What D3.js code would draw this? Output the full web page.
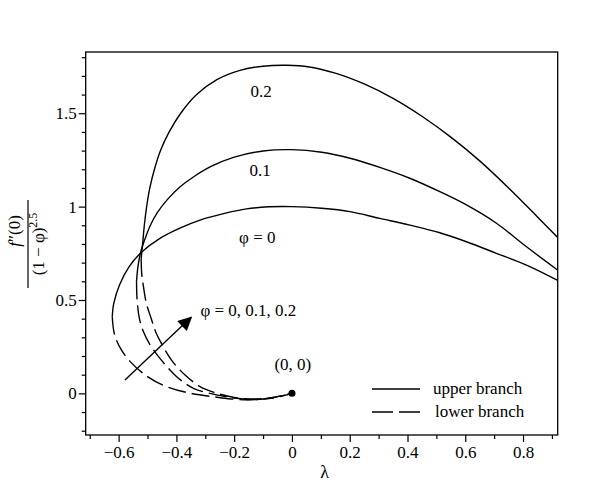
<!DOCTYPE html>
<html>
<head>
<meta charset="utf-8">
<script src="https://cdn.jsdelivr.net/npm/d3@7/dist/d3.min.js"></script>
<style>
  body { margin: 0; background: #fff; }
  svg text { font-family: "Liberation Serif", "DejaVu Serif", serif; fill: #000; }
  .axis path, .axis line { stroke: #000; stroke-width: 1.2; }
  .axis text { font-size: 17px; font-family: "Liberation Serif", serif; }
  .curve { fill: none; stroke: #000; stroke-width: 1.4; }
</style>
</head>
<body>
<svg id="chart" width="600" height="493"></svg>
<script>
// x: lambda, y: f''(0)/(1-phi)^2.5
var xMajor = [-0.6, -0.4, -0.2, 0, 0.2, 0.4, 0.6, 0.8];
var xMinor = [-0.7, -0.5, -0.3, -0.1, 0.1, 0.3, 0.5, 0.7, 0.9];
var yMajor = [0, 0.5, 1, 1.5];
var yMinor = [-0.2, -0.1, 0.1, 0.2, 0.3, 0.4, 0.6, 0.7, 0.8, 0.9, 1.1, 1.2, 1.3, 1.4, 1.6, 1.7, 1.8];

// upper branches (solid), from turning point to the right
var upper0 = [[-0.622, 0.41], [-0.617, 0.48], [-0.597, 0.58], [-0.563, 0.68], [-0.52, 0.757], [-0.457, 0.83],
  [-0.388, 0.885], [-0.318, 0.928], [-0.23, 0.965], [-0.157, 0.988], [-0.08, 0.999], [0.0, 1.0], [0.103, 0.991],
  [0.201, 0.973], [0.304, 0.937], [0.408, 0.901], [0.512, 0.86], [0.604, 0.812], [0.708, 0.75], [0.812, 0.687], [0.92, 0.605]];
var upper1 = [[-0.538, 0.6], [-0.533, 0.68], [-0.523, 0.76], [-0.508, 0.83], [-0.49, 0.9], [-0.465, 0.97],
  [-0.43, 1.04], [-0.388, 1.105], [-0.34, 1.16], [-0.28, 1.215], [-0.2, 1.265], [-0.1, 1.298], [0.0, 1.305],
  [0.103, 1.291], [0.201, 1.259], [0.304, 1.21], [0.408, 1.152], [0.512, 1.08], [0.604, 1.009],
  [0.708, 0.911], [0.812, 0.785], [0.92, 0.66]];
var upper2 = [[-0.522, 0.72], [-0.517, 0.8], [-0.511, 0.9], [-0.503, 1.0], [-0.492, 1.1], [-0.476, 1.2],
  [-0.455, 1.3], [-0.425, 1.4], [-0.385, 1.5], [-0.33, 1.6], [-0.26, 1.68], [-0.18, 1.73], [-0.1, 1.752],
  [-0.018, 1.757], [0.06, 1.748], [0.15, 1.715], [0.25, 1.657], [0.35, 1.58], [0.45, 1.484], [0.55, 1.372],
  [0.65, 1.245], [0.75, 1.1], [0.85, 0.945], [0.92, 0.835]];

// lower branches (dashed), from turning point to (0, 0)
var lower0 = [[-0.622, 0.41], [-0.615, 0.32], [-0.597, 0.25], [-0.56, 0.17], [-0.5, 0.09], [-0.44, 0.04],
  [-0.365, 0.005], [-0.273, -0.018], [-0.157, -0.035], [-0.065, -0.022], [0, 0]];
var lower1 = [[-0.538, 0.6], [-0.536, 0.5], [-0.528, 0.4], [-0.514, 0.33], [-0.491, 0.26], [-0.452, 0.178],
  [-0.399, 0.089], [-0.341, 0.027], [-0.284, 0.0], [-0.2, -0.025], [-0.145, -0.033], [-0.065, -0.025], [0, 0]];
var lower2 = [[-0.522, 0.72], [-0.52, 0.64], [-0.514, 0.571], [-0.504, 0.482], [-0.487, 0.4], [-0.472, 0.33],
  [-0.452, 0.268], [-0.417, 0.178], [-0.37, 0.098], [-0.318, 0.036], [-0.27, 0.005], [-0.2, -0.022],
  [-0.13, -0.03], [-0.065, -0.022], [0, 0]];

var curveLabels = [
  { text: "0.2", x: -0.107, y: 1.587, anchor: "middle" },
  { text: "0.1", x: -0.11, y: 1.164, anchor: "middle" },
  { text: "φ = 0", x: -0.12, y: 0.805, anchor: "middle" },
  { text: "φ = 0, 0.1, 0.2", x: -0.317, y: 0.413, anchor: "start" },
  { text: "(0, 0)", x: 0.003, y: 0.125, anchor: "middle" }
];
var arrowFrom = [-0.578, 0.071], arrowTo = [-0.349, 0.407];
var legendItems = [{ label: "upper branch", dash: null }, { label: "lower branch", dash: "21,6" }];

(function() {
  var svg = d3.select("#chart");
  var pLeft = 85.7, pRight = 557.7, pTop = 52, pBottom = 435;

  var x = d3.scaleLinear().domain([-0.714, 0.92]).range([pLeft, pRight]);
  var y = d3.scaleLinear().domain([-0.223, 1.828]).range([pBottom, pTop]);
  var fmt = d3.format("");

  // axes
  svg.append("g").attr("class", "axis")
    .attr("transform", "translate(0," + pBottom + ")")
    .call(d3.axisBottom(x).tickValues(xMinor.filter(function(d) { return x(d) >= pLeft; }))
      .tickSize(4).tickFormat("").tickSizeOuter(0))
    .select(".domain").remove();
  svg.append("g").attr("class", "axis")
    .attr("transform", "translate(0," + pBottom + ")")
    .call(d3.axisBottom(x).tickValues(xMajor).tickSize(7).tickPadding(4).tickFormat(fmt).tickSizeOuter(0))
    .select(".domain").remove();
  svg.append("g").attr("class", "axis")
    .attr("transform", "translate(" + pLeft + ",0)")
    .call(d3.axisLeft(y).tickValues(yMinor).tickSize(4).tickFormat("").tickSizeOuter(0))
    .select(".domain").remove();
  svg.append("g").attr("class", "axis")
    .attr("transform", "translate(" + pLeft + ",0)")
    .call(d3.axisLeft(y).tickValues(yMajor).tickSize(7).tickPadding(2).tickFormat(fmt).tickSizeOuter(0))
    .select(".domain").remove();
  svg.selectAll(".axis text").attr("font-family", null).attr("font-size", null);

  svg.append("rect")
    .attr("x", pLeft).attr("y", pTop)
    .attr("width", pRight - pLeft).attr("height", pBottom - pTop)
    .attr("fill", "none").attr("stroke", "#000").attr("stroke-width", 1.3);

  // curves
  svg.append("clipPath").attr("id", "plot-clip")
    .append("rect").attr("x", pLeft).attr("y", pTop).attr("width", pRight - pLeft).attr("height", pBottom - pTop);

  var line = d3.line()
    .x(function(d) { return x(d[0]); })
    .y(function(d) { return y(d[1]); })
    .curve(d3.curveCatmullRom.alpha(0.5));

  var plot = svg.append("g").attr("clip-path", "url(#plot-clip)");
  [upper0, upper1, upper2].forEach(function(c) {
    plot.append("path").attr("class", "curve").attr("d", line(c));
  });
  [lower0, lower1, lower2].forEach(function(c) {
    plot.append("path").attr("class", "curve").attr("d", line(c)).attr("stroke-dasharray", "18,6");
  });

  plot.append("circle").attr("cx", x(0)).attr("cy", y(0)).attr("r", 3.5).attr("fill", "#000");

  // arrow
  svg.append("defs").append("marker")
    .attr("id", "arrowhead").attr("viewBox", "0 0 10 10")
    .attr("refX", 9).attr("refY", 5)
    .attr("markerWidth", 16).attr("markerHeight", 14)
    .attr("markerUnits", "userSpaceOnUse")
    .attr("orient", "auto")
    .append("path").attr("d", "M0,0L10,5L0,10z").attr("fill", "#000");

  plot.append("line")
    .attr("x1", x(arrowFrom[0])).attr("y1", y(arrowFrom[1]))
    .attr("x2", x(arrowTo[0])).attr("y2", y(arrowTo[1]))
    .attr("stroke", "#000").attr("stroke-width", 1.4)
    .attr("marker-end", "url(#arrowhead)");

  // labels
  svg.selectAll(".clabel").data(curveLabels).enter().append("text")
    .attr("class", "clabel")
    .attr("x", function(d) { return x(d.x); })
    .attr("y", function(d) { return y(d.y); })
    .attr("text-anchor", function(d) { return d.anchor; })
    .style("font-size", "17px")
    .text(function(d) { return d.text; });

  // legend
  var lg = svg.append("g").attr("transform", "translate(372,389)");
  legendItems.forEach(function(item, i) {
    var row = lg.append("g").attr("transform", "translate(0," + (i * 23) + ")");
    row.append("line").attr("x1", 0).attr("x2", 48).attr("y1", 0).attr("y2", 0)
      .attr("stroke", "#000").attr("stroke-width", 1.4)
      .attr("stroke-dasharray", item.dash);
    row.append("text").attr("x", 61 + i * 2).attr("y", 5).style("font-size", "17px").text(item.label);
  });

  // axis titles
  svg.append("text")
    .attr("x", (pLeft + pRight) / 2 + 3).attr("y", 478)
    .attr("text-anchor", "middle").style("font-size", "18px").text("λ");

  var yt = svg.append("g").attr("transform", "translate(28,244) rotate(-90)");
  yt.append("line").attr("x1", -44).attr("x2", 44).attr("y1", 0).attr("y2", 0)
    .attr("stroke", "#000").attr("stroke-width", 1.2);
  var num = yt.append("text").attr("x", 13).attr("y", -8).attr("text-anchor", "middle").style("font-size", "17px");
  num.append("tspan").style("font-style", "italic").text("f");
  num.append("tspan").text("″(0)");
  var den = yt.append("text").attr("x", 0).attr("y", 16).attr("text-anchor", "middle").style("font-size", "17px");
  den.append("tspan").text("(1 − φ)");
  den.append("tspan").attr("dy", -7).style("font-size", "12px").text("2.5");
})();
</script>
</body>
</html>
